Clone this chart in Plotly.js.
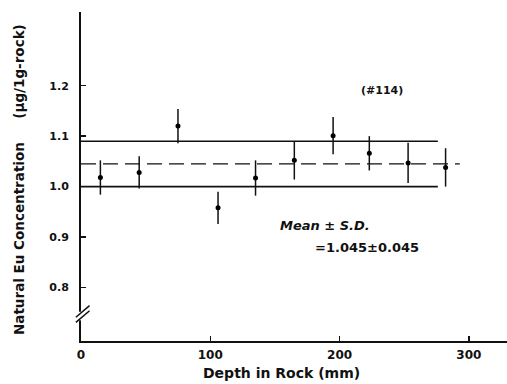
<!DOCTYPE html>
<html><head><meta charset="utf-8">
<script src="https://cdn.plot.ly/plotly-3.0.1.min.js"></script>
<style>html,body{margin:0;padding:0;background:#fff}#c{width:507px;height:384px}</style>
</head><body><div id="c"></div>
<script>
const depth = [15, 45, 75, 106, 135, 165, 195, 223, 253, 282];
const euConc = [1.018, 1.028, 1.120, 0.958, 1.017, 1.052, 1.101, 1.066, 1.047, 1.038];
const euErr = [0.034, 0.032, 0.034, 0.032, 0.035, 0.038, 0.037, 0.034, 0.040, 0.038];
const meanVal = 1.045;
const sdVal = 0.045;
const bandX = [0, 276];
const meanX = [0, 293];
const xTicks = [0, 100, 200, 300];
const yTicks = [0.8, 0.9, 1.0, 1.1, 1.2];
const yTickText = ["0.8", "0.9", "1.0", "1.1", "1.2"];

const font = "DejaVu Sans, Liberation Sans, Arial, sans-serif";
const traces = [
  {x: bandX, y: bandX.map(() => meanVal + sdVal), mode: "lines", line: {color: "#111", width: 1.6}, hoverinfo: "skip", showlegend: false},
  {x: bandX, y: bandX.map(() => meanVal - sdVal), mode: "lines", line: {color: "#111", width: 1.6}, hoverinfo: "skip", showlegend: false},
  {x: meanX, y: meanX.map(() => meanVal), mode: "lines", line: {color: "#111", width: 1.3, dash: "15px,7px"}, hoverinfo: "skip", showlegend: false},
  {x: depth, y: euConc, mode: "markers", marker: {color: "#000", size: 5},
   error_y: {type: "data", array: euErr, visible: true, color: "#111", thickness: 1.5, width: 0}, showlegend: false}
];
const layout = {
  width: 507, height: 384,
  margin: {l: 81, r: 0, t: 12, b: 43},
  paper_bgcolor: "#fff", plot_bgcolor: "#fff",
  font: {family: font, color: "#111"},
  showlegend: false,
  xaxis: {range: [0, 329.5], tickvals: xTicks, ticks: "inside", ticklen: 5, tickwidth: 1.5, tickcolor: "#111",
    showline: true, linecolor: "#111", linewidth: 2, showgrid: false, zeroline: false,
    tickfont: {size: 12, family: font, weight: "bold"}, ticklabelstandoff: 2},
  yaxis: {range: [0.694, 1.346], tickvals: yTicks, ticktext: yTickText, ticks: "inside", ticklen: 5, tickwidth: 1.5, tickcolor: "#111",
    showline: true, linecolor: "#111", linewidth: 2, showgrid: false, zeroline: false,
    tickfont: {size: 11, family: font, weight: "bold"}, ticklabelstandoff: 8},
  annotations: [
    {text: "Natural Eu Concentration\u00A0\u00A0\u00A0\u00A0\u00A0(\u00B5g/1g-rock)", textangle: -90, xref: "paper", yref: "paper",
     x: (19 - 81) / 426, y: (341 - 180) / 329, xanchor: "center", yanchor: "middle", showarrow: false,
     font: {size: 13.5, family: font, weight: "bold"}},
    {text: "Depth in Rock (mm)", xref: "x", yref: "paper", x: 155, y: -(373 - 341) / 329, xanchor: "center", yanchor: "middle",
     showarrow: false, font: {size: 14, family: font, weight: "bold"}},
    {text: "(#114)", xref: "x", yref: "y", x: 233, y: 1.191, showarrow: false, font: {size: 11, family: font, weight: "bold"}},
    {text: "<i>Mean \u00B1 S.D.</i>", xref: "x", yref: "y", x: 189, y: 0.922, showarrow: false, font: {size: 13, family: font, weight: "bold"}},
    {text: "=1.045\u00B10.045", xref: "x", yref: "y", x: 221, y: 0.879, showarrow: false, font: {size: 13, family: font, weight: "bold"}}
  ],
  shapes: [
    {type: "rect", xref: "paper", yref: "y", x0: -0.008, x1: 0.008, y0: 0.735, y1: 0.752, fillcolor: "#fff", line: {width: 0}, layer: "above"},
    {type: "line", xref: "paper", yref: "y", x0: -0.012, x1: 0.02, y0: 0.731, y1: 0.754, line: {color: "#111", width: 1.5}, layer: "above"},
    {type: "line", xref: "paper", yref: "y", x0: -0.012, x1: 0.02, y0: 0.741, y1: 0.764, line: {color: "#111", width: 1.5}, layer: "above"}
  ]
};
Plotly.newPlot("c", traces, layout, {staticPlot: true, displayModeBar: false});
</script></body></html>
